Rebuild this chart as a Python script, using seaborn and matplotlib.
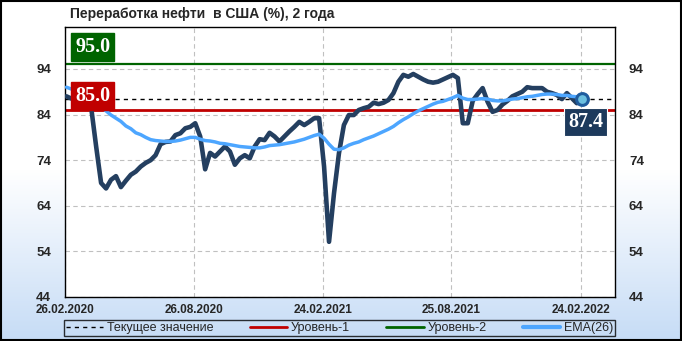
import numpy as np
import pandas as pd
import matplotlib
matplotlib.use("Agg")
import matplotlib.pyplot as plt
import seaborn as sns
from matplotlib.lines import Line2D
from matplotlib.colors import LinearSegmentedColormap

sns.set_theme(style="white")
plt.rcParams['font.family'] = ['Liberation Sans', 'DejaVu Sans']

# ---------------- data ----------------
title = "Переработка нефти  в США (%), 2 года"
start_date = "2020-02-28"
utilization = [
    88.0, 87.5, 87.2, 87.3, 86.8, 85.5, 77.0, 69.0, 67.8, 69.7,
    70.5, 68.1, 69.5, 70.8, 71.5, 72.6, 73.4, 74.0, 75.1, 77.5,
    78.0, 78.1, 79.5, 79.9, 81.0, 81.3, 82.1, 79.2, 72.0, 75.6,
    74.8, 75.9, 77.0, 75.9, 73.0, 74.4, 75.1, 74.4, 77.0, 78.6,
    78.4, 80.0, 79.2, 78.1, 79.2, 80.3, 81.3, 82.4, 81.7, 82.4,
    83.2, 83.2, 72.6, 56.1, 66.7, 75.5, 81.7, 83.9, 83.9, 85.0,
    85.4, 85.7, 86.6, 86.3, 86.6, 87.2, 88.7, 91.2, 92.7, 92.3,
    92.9, 92.3, 91.7, 91.2, 91.0, 91.2, 91.7, 92.2, 92.7, 92.0,
    82.1, 82.1, 87.0, 88.5, 89.8, 86.8, 84.6, 85.0, 86.2, 87.0,
    88.0, 88.5, 89.0, 90.0, 89.8, 89.8, 89.8, 89.0, 88.7, 88.3,
    87.4, 88.7, 87.6, 86.5, 87.4,
]
ema26 = [
    90.0, 89.6, 89.2, 88.6, 88.0, 87.3, 86.5, 85.7, 84.8, 83.9,
    83.2, 82.5, 81.5, 80.9, 80.0, 79.6, 79.0, 78.5, 78.3, 78.2,
    78.1, 78.1, 78.2, 78.4, 78.7, 79.0, 79.0, 78.6, 78.3, 78.2,
    78.0, 77.7, 77.6, 77.4, 77.2, 77.0, 76.9, 76.8, 76.7, 76.7,
    76.9, 77.2, 77.3, 77.4, 77.6, 77.8, 78.0, 78.3, 78.6, 79.0,
    79.4, 79.7, 78.8, 77.5, 76.4, 76.3, 76.7, 77.3, 77.7, 78.0,
    78.5, 78.9, 79.3, 79.8, 80.3, 80.8, 81.4, 82.2, 82.9, 83.5,
    84.2, 84.8, 85.3, 85.8, 86.3, 86.7, 86.9, 87.3, 87.7, 88.2,
    87.6, 87.3, 87.3, 87.4, 87.5, 87.4, 87.1, 87.0, 87.0, 87.2,
    87.4, 87.5, 87.7, 87.9, 88.0, 88.2, 88.4, 88.5, 88.5, 88.4,
    88.2, 88.2, 88.0, 87.9, 87.8,
]
level_1 = 85.0
level_2 = 95.0
current_value = 87.4
y_ticks = [44, 54, 64, 74, 84, 94]
x_tick_dates = ["2020-02-26", "2020-08-26", "2021-02-24", "2021-08-25", "2022-02-24"]
x_limits = ["2020-02-26", "2022-04-13"]
y_limits = [44, 103.2]
legend_labels = ["Текущее значение", "Уровень-1", "Уровень-2", "EMA(26)"]

# colours
c_main = "#243f60"
c_ema = "#4da6ff"
c_l1 = "#c00000"
c_l2 = "#006400"

dates = pd.date_range(start_date, periods=len(utilization), freq="7D")
df = pd.DataFrame({"date": dates, "value": utilization, "ema": ema26})

W, H = 682, 341
fig = plt.figure(figsize=(W / 100, H / 100), dpi=100)

# background gradient
bg = fig.add_axes([0, 0, 1, 1], zorder=-10)
cmap = LinearSegmentedColormap.from_list("bg", ["#ffffff", "#ffffff", "#c6dcf6"])
grad = np.linspace(0, 1, 256)[:, None]
bg.imshow(grad, aspect="auto", cmap=cmap, extent=[0, 1, 0, 1], origin="upper")
bg.set_xlim(0, 1)
bg.set_ylim(0, 1)
bg.axis("off")
bg.add_patch(plt.Rectangle((0.001, 0.002), 0.997, 0.995, fill=False,
                           edgecolor="black", lw=1.5, transform=bg.transAxes))

ax = fig.add_axes([65 / W, 1 - 297 / H, 550 / W, 270 / H])
ax.set_facecolor("white")

# grid
for yt in y_ticks:
    ax.axhline(yt, color="#c0c0c0", lw=0.8, ls=(0, (4, 3)), zorder=1)
for xt in pd.to_datetime(x_tick_dates):
    ax.axvline(xt, color="#c0c0c0", lw=0.8, ls=(0, (4, 3)), zorder=1)

ax.axhline(level_2, color=c_l2, lw=1.6, zorder=2)
ax.axhline(level_1, color=c_l1, lw=2.0, zorder=2)
ax.axhline(current_value, color="black", lw=1.0, ls=(0, (3, 3)), zorder=2)

sns.lineplot(data=df, x="date", y="value", color=c_main, lw=3.3, ax=ax, zorder=3)
sns.lineplot(data=df, x="date", y="ema", color=c_ema, lw=2.5, ax=ax, zorder=4)
ax.plot([dates[-1]], [utilization[-1]], marker="o", ms=8.5, mfc="#6cc0e0",
        mec="#1f5c9e", mew=2.2, zorder=5)

ax.set_xlim(pd.to_datetime(x_limits[0]), pd.to_datetime(x_limits[1]))
ax.set_ylim(*y_limits)
ax.set_yticks(y_ticks)
ax.set_xticks(pd.to_datetime(x_tick_dates))
ax.set_xticklabels([pd.to_datetime(d).strftime("%d.%m.%Y") for d in x_tick_dates])
ax.tick_params(axis="y", length=0, pad=10, labelsize=9.5, labelright=True, right=False)
ax.tick_params(axis="x", length=0, pad=5, labelsize=8.5)
for lab in ax.get_yticklabels() + ax.get_xticklabels():
    lab.set_fontweight("bold")
ax.set_xlabel("")
ax.set_ylabel("")
for s in ax.spines.values():
    s.set_color("black")
    s.set_linewidth(1.0)

# value boxes
serif = ["Liberation Serif", "DejaVu Serif"]
x0 = pd.to_datetime(x_limits[0])
box_kw = dict(textcoords="offset points", ha="center", va="center", color="white",
              fontsize=14.5, fontweight="bold", family=serif, zorder=6)
ax.annotate(f"{level_2:.1f}", xy=(x0, level_2), xytext=(20, 12.5),
            bbox=dict(boxstyle="square,pad=0.2", fc=c_l2, ec=c_l2), **box_kw)
ax.annotate(f"{level_1:.1f}", xy=(x0, level_1), xytext=(20, 10.0),
            bbox=dict(boxstyle="square,pad=0.2", fc=c_l1, ec=c_l1), **box_kw)
ax.annotate(f"{current_value:.1f}", xy=(dates[-1], utilization[-1]), xytext=(3, -16.5),
            bbox=dict(boxstyle="square,pad=0.2", fc="#1d3a5c", ec="white", lw=0.8),
            **box_kw)

fig.text(70 / W, 1 - 14 / H, title, ha="left", va="center", fontsize=10,
         fontweight="bold", family=["Liberation Sans", "DejaVu Sans"])

handles = [
    Line2D([], [], color="black", lw=1.0, ls=(0, (3, 3))),
    Line2D([], [], color=c_l1, lw=2.0),
    Line2D([], [], color=c_l2, lw=2.0),
    Line2D([], [], color=c_ema, lw=3.0),
]
leg = fig.legend(handles, legend_labels, loc="center", ncol=4, mode="expand",
                 bbox_to_anchor=(64 / W, 1 - 336 / H, 551 / W, 16 / H),
                 frameon=True, fancybox=False, edgecolor="black", facecolor="none",
                 fontsize=9, handlelength=3.0, handletextpad=0.3,
                 borderpad=0.15, columnspacing=1.0, borderaxespad=0)
leg.get_frame().set_linewidth(1.0)

fig.savefig("out.png", dpi=100)
